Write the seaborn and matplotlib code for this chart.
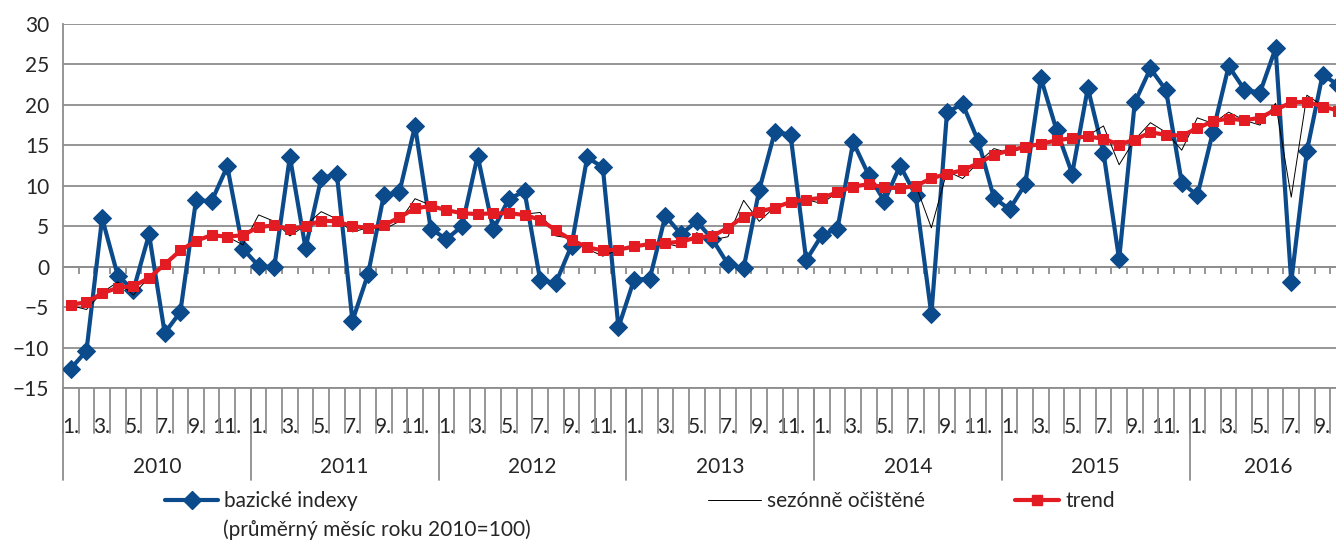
import numpy as np
import pandas as pd
import seaborn as sns
import matplotlib.pyplot as plt
from matplotlib.lines import Line2D
from matplotlib.transforms import blended_transform_factory

# monthly values, Jan 2010 .. Oct 2016
years = ['2010', '2011', '2012', '2013', '2014', '2015', '2016']
months_in_year = [12, 12, 12, 12, 12, 12, 10]

bazicke = [-12.6, -10.4, 6.0, -1.1, -2.9, 4.0, -8.2, -5.6, 8.2, 8.1, 12.4, 2.2,
           0.1, -0.1, 13.6, 2.3, 10.9, 11.5, -6.7, -0.9, 8.8, 9.2, 17.4, 4.7,
           3.4, 5.0, 13.7, 4.6, 8.4, 9.3, -1.7, -2.0, 2.6, 13.5, 12.3, -7.5,
           -1.6, -1.5, 6.3, 4.0, 5.6, 3.4, 0.3, -0.2, 9.5, 16.7, 16.3, 0.8,
           3.9, 4.7, 15.4, 11.3, 8.1, 12.5, 8.8, -5.9, 19.1, 20.1, 15.5, 8.5,
           7.1, 10.2, 23.3, 16.9, 11.5, 22.1, 14.1, 0.9, 20.3, 24.5, 21.8, 10.4,
           8.8, 16.7, 24.8, 21.9, 21.5, 27.0, -1.9, 14.3, 23.7, 22.5]

sezonne = [-4.8, -5.3, -3.2, -1.9, -3.5, -1.3, 0.4, 2.0, 3.2, 4.0, 3.7, 2.7,
           6.4, 5.6, 3.8, 5.1, 6.8, 5.9, 4.3, 4.8, 4.6, 5.6, 8.4, 7.6,
           7.0, 6.6, 6.4, 6.6, 6.6, 6.5, 6.7, 3.8, 3.5, 2.2, 1.3, 2.1,
           2.5, 2.8, 2.9, 2.4, 4.2, 3.3, 3.7, 8.2, 5.6, 7.4, 8.0, 8.3,
           7.8, 9.2, 9.9, 10.4, 9.8, 9.7, 10.1, 4.8, 11.8, 10.9, 12.9, 14.6,
           14.0, 14.8, 15.3, 15.6, 15.9, 16.2, 17.4, 12.6, 15.7, 17.8, 16.6, 14.4,
           18.4, 17.7, 19.1, 18.1, 17.5, 20.2, 8.6, 21.2, 19.9, 19.2]

trend = [-4.7, -4.4, -3.3, -2.6, -2.4, -1.4, 0.3, 2.0, 3.2, 3.9, 3.7, 3.9,
         4.9, 5.1, 4.6, 5.0, 5.7, 5.6, 5.0, 4.8, 5.1, 6.1, 7.2, 7.5,
         7.0, 6.6, 6.5, 6.6, 6.6, 6.4, 5.8, 4.5, 3.3, 2.4, 2.0, 2.1,
         2.5, 2.8, 2.9, 3.1, 3.6, 3.8, 4.8, 6.2, 6.8, 7.3, 8.0, 8.3,
         8.5, 9.2, 9.9, 10.2, 9.8, 9.7, 10.0, 10.9, 11.5, 11.9, 12.8, 13.8,
         14.4, 14.8, 15.2, 15.6, 15.9, 16.1, 15.8, 15.1, 15.7, 16.6, 16.3, 16.2,
         17.1, 18.0, 18.3, 18.1, 18.4, 19.4, 20.3, 20.4, 19.8, 19.3]

month_no = [m for n in months_in_year for m in range(1, n + 1)]
df = pd.DataFrame({'pos': np.arange(len(month_no)), 'month': month_no,
                   'bazicke': bazicke, 'sezonne': sezonne, 'trend': trend})

BLUE = '#0B4A8B'
RED = '#E31B23'
GRID = '#8E8E8E'

sns.set_theme(style='white')
plt.rcParams['font.family'] = ['Lato', 'DejaVu Sans']
FS = 15

fig = plt.figure(figsize=(13.36, 5.40), dpi=100)
# plot area runs a little past the right edge, like the cropped original
ax = fig.add_axes([63 / 1336, 152 / 540, 1283 / 1336, 364 / 540])

sns.lineplot(data=df, x='pos', y='bazicke', ax=ax, color=BLUE, linewidth=3.0,
             marker='D', markersize=9, markeredgecolor=BLUE, zorder=3)
sns.lineplot(data=df, x='pos', y='sezonne', ax=ax, color='black', linewidth=0.7, zorder=4)
sns.lineplot(data=df, x='pos', y='trend', ax=ax, color=RED, linewidth=3.0,
             marker='s', markersize=6.5, markeredgecolor=RED, zorder=5)

n = len(df)
ax.set_xlim(-0.5, n - 0.5)
ax.set_ylim(-15, 30)
ax.set_yticks(range(-15, 31, 5))
ax.yaxis.grid(True, color=GRID, linewidth=1.3)
ax.set_axisbelow(True)
for s in ['top', 'right', 'bottom']:
    ax.spines[s].set_visible(False)
ax.spines['left'].set_color(GRID)
ax.spines['left'].set_linewidth(1.3)
ax.tick_params(axis='y', length=6, color=GRID, width=1.3, labelsize=FS, pad=4)
ax.set_xlabel('')
ax.set_ylabel('')

# zero axis with small category ticks
ax.axhline(0, color=GRID, linewidth=1.3, zorder=1)
bounds = np.arange(n + 1) - 0.5
ax.vlines(bounds[1:], -0.85, 0, color=GRID, linewidth=1.3, zorder=1)

# month labels (odd months) below the plot area
odd = df[df['month'] % 2 == 1]
ax.set_xticks(odd['pos'])
ax.set_xticklabels([f'{m}.' for m in odd['month']], fontsize=FS)
ax.tick_params(axis='x', length=0, pad=21)

trans = blended_transform_factory(ax.transData, ax.transAxes)
ax.plot([bounds[0], bounds[-1]], [0, 0], transform=trans, color=GRID, linewidth=1.3,
        clip_on=False)
for b in bounds:
    ax.plot([b, b], [0, -45 / 364], transform=trans, color=GRID, linewidth=1.3,
            clip_on=False)
start = 0
for yr, cnt in zip(years, months_in_year):
    ax.plot([start - 0.5, start - 0.5], [0, -92 / 364], transform=trans, color=GRID,
            linewidth=1.3, clip_on=False)
    ax.text(start + (cnt - 1) / 2, -79 / 364, yr, transform=trans, ha='center',
            va='center', fontsize=FS)
    start += cnt

# legend, three separate entries like the original
h_blue = Line2D([], [], color=BLUE, linewidth=3.0, marker='D', markersize=9)
h_black = Line2D([], [], color='black', linewidth=0.7)
h_red = Line2D([], [], color=RED, linewidth=3.0, marker='s', markersize=6.5)
leg_kw = dict(loc='center left', frameon=False, fontsize=FS, borderpad=0,
              borderaxespad=0, handletextpad=0.3, numpoints=1)
fig.legend([h_blue], ['bazické indexy'], bbox_to_anchor=(165 / 1336, 1 - 501 / 540),
           handlelength=2.55, **leg_kw)
fig.text(223 / 1336, 1 - 530 / 540, '(průměrný měsíc roku 2010=100)', fontsize=FS,
         va='center', ha='left')
fig.legend([h_black], ['sezónně očištěné'], bbox_to_anchor=(708 / 1336, 1 - 501 / 540),
           handlelength=2.55, **leg_kw)
fig.legend([h_red], ['trend'], bbox_to_anchor=(1015 / 1336, 1 - 501 / 540),
           handlelength=2.1, **leg_kw)

fig.savefig('out.png', dpi=100)
